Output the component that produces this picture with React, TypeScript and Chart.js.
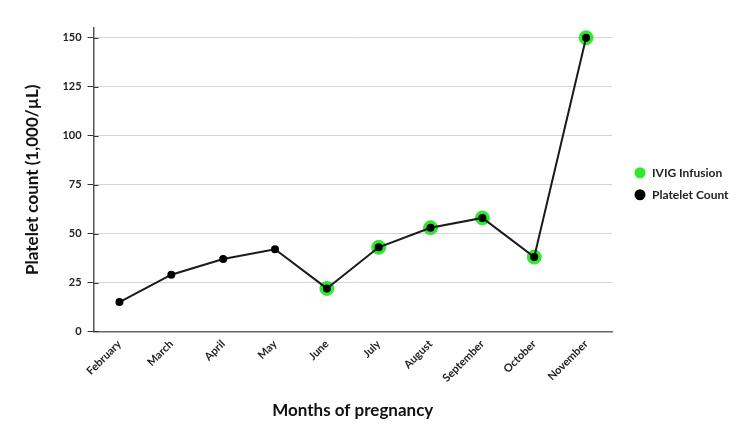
import React, { useEffect, useRef } from "react";
import { Chart, registerables } from "chart.js";

Chart.register(...registerables);

const months = ["February", "March", "April", "May", "June", "July", "August", "September", "October", "November"];
const plateletCount = [15, 29, 37, 42, 22, 43, 53, 58, 38, 150];
const ivigInfusion = [null, null, null, null, 22, 43, 53, 58, 38, 150];
const yTicks = [0, 25, 50, 75, 100, 125, 150];

const FONT = "Lato, 'Open Sans', sans-serif";
const GREEN = "#2ee82e";

const sideLegend = {
  id: "sideLegend",
  afterDraw(chart: any) {
    const { ctx, chartArea } = chart;
    const ys = chart.scales.y;
    // inner part of y tick marks (crossing the axis)
    ctx.save();
    ctx.strokeStyle = "#333";
    ctx.lineWidth = 1;
    ys.ticks.forEach((t: any) => {
      const y = Math.round(ys.getPixelForValue(t.value)) + 0.5;
      ctx.beginPath();
      ctx.moveTo(chartArea.left, y);
      ctx.lineTo(chartArea.left + 5, y);
      ctx.stroke();
    });
    // legend
    const cx = chartArea.right + 28;
    const mid = (chartArea.top + chartArea.bottom) / 2;
    const rows = [mid - 7, mid + 15];
    ctx.font = `bold 12px ${FONT}`;
    ctx.textBaseline = "middle";
    ctx.textAlign = "left";
    chart.data.datasets.forEach((ds: any, i: number) => {
      const y = rows[i];
      ctx.beginPath();
      ctx.arc(cx, y, 5.5, 0, Math.PI * 2);
      ctx.fillStyle = ds.pointBackgroundColor;
      ctx.fill();
      ctx.fillStyle = "#222";
      ctx.fillText(ds.label, cx + 12, y);
    });
    ctx.restore();
  },
};

export default function App() {
  const ref = useRef<HTMLCanvasElement>(null);
  useEffect(() => {
    if (!ref.current) return;
    const chart = new Chart(ref.current, {
      type: "line",
      data: {
        labels: months,
        datasets: [
          {
            label: "IVIG Infusion",
            data: ivigInfusion,
            showLine: false,
            pointRadius: 7,
            pointBackgroundColor: GREEN,
            pointBorderColor: GREEN,
            backgroundColor: GREEN,
            borderColor: GREEN,
            order: 2,
          },
          {
            label: "Platelet Count",
            data: plateletCount,
            borderColor: "#1a1a1a",
            borderWidth: 2,
            backgroundColor: "#000",
            pointRadius: 3,
            pointBackgroundColor: "#000",
            pointBorderColor: "#000",
            tension: 0,
            order: 1,
          },
        ],
      },
      plugins: [sideLegend],
      options: {
        animation: false,
        responsive: true,
        maintainAspectRatio: false,
        layout: { padding: { left: 10, right: 130, top: 20, bottom: 14 } },
        plugins: {
          tooltip: { enabled: false },
          legend: { display: false },
        },
        scales: {
          x: {
            offset: true,
            grid: { display: true, drawOnChartArea: false, drawTicks: false },
            border: { display: true, color: "#666", width: 1.5 },
            ticks: {
              maxRotation: 45,
              minRotation: 45,
              padding: 6,
              color: "#222",
              font: { family: FONT, size: 11, weight: "bold" },
            },
            title: {
              display: true,
              text: "Months of pregnancy",
              color: "#111",
              padding: { top: 10 },
              font: { family: FONT, size: 17, weight: "bold" },
            },
          },
          y: {
            min: 0,
            max: 155,
            afterBuildTicks: (axis: any) => {
              axis.ticks = yTicks.map((v) => ({ value: v }));
            },
            grid: { color: "#d4d4d4", tickColor: "#333", tickLength: 6, lineWidth: 1 },
            border: { display: true, color: "#555", width: 1.5 },
            ticks: {
              padding: 6,
              color: "#222",
              font: { family: FONT, size: 11, weight: "bold" },
            },
            title: {
              display: true,
              text: "Platelet count (1,000/µL)",
              color: "#111",
              padding: { bottom: 14 },
              font: { family: FONT, size: 17, weight: "bold" },
            },
          },
        },
      },
    });
    return () => chart.destroy();
  }, []);
  return (
    <div style={{ width: 734, height: 431 }}>
      <canvas ref={ref} />
    </div>
  );
}
